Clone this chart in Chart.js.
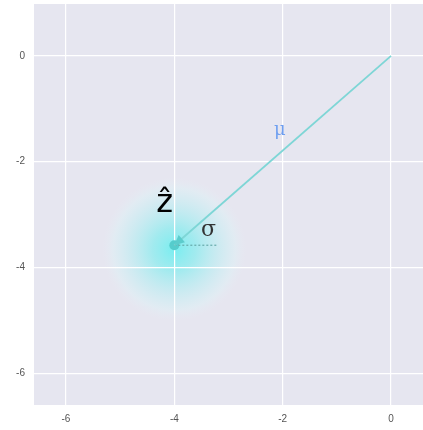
<!DOCTYPE html>
<html>
<head>
<meta charset="utf-8">
<script src="https://cdn.jsdelivr.net/npm/chart.js@4"></script>
<style>
  body { margin: 0; background: #fff; }
  #wrap { width: 423px; height: 430px; }
</style>
</head>
<body>
<div id="wrap"><canvas id="vecChart"></canvas></div>
<script>
// dados
const origin = { x: 0, y: 0 };
const mu = { x: -4, y: -3.58 };
const sigmaEnd = { x: -3.2, y: -3.58 };
const xTicks = [-6, -4, -2, 0];
const yTicks = [0, -2, -4, -6];
const labels = [
  { text: 'μ', x: -2.05, y: -1.4, color: '#6f9ff0', font: '18px "DejaVu Serif"' },
  { text: 'σ', x: -3.37, y: -3.3, color: '#333', font: '22px "DejaVu Serif"' },
  { text: 'ẑ', x: -4.18, y: -2.8, color: '#000', font: '32px "DejaVu Sans"' }
];

// fundo estilo seaborn + brilho em volta do ponto
const bgPlugin = {
  id: 'bg',
  beforeDraw(chart) {
    const { ctx, chartArea: a, scales } = chart;
    ctx.save();
    ctx.fillStyle = '#e6e6f0';
    ctx.fillRect(a.left, a.top, a.right - a.left, a.bottom - a.top);
    const px = scales.x.getPixelForValue(mu.x);
    const py = scales.y.getPixelForValue(mu.y) + 4;
    const g = ctx.createRadialGradient(px, py, 0, px, py, 72);
    g.addColorStop(0, 'rgba(115,238,240,0.95)');
    g.addColorStop(0.3, 'rgba(135,236,238,0.72)');
    g.addColorStop(0.6, 'rgba(180,238,242,0.55)');
    g.addColorStop(0.85, 'rgba(220,242,246,0.45)');
    g.addColorStop(1, 'rgba(230,238,245,0)');
    ctx.fillStyle = g;
    ctx.beginPath();
    ctx.arc(px, py, 72, 0, Math.PI * 2);
    ctx.fill();
    ctx.restore();
  },
  afterDatasetsDraw(chart) {
    const { ctx, scales } = chart;
    // ponta da seta
    const x0 = scales.x.getPixelForValue(origin.x), y0 = scales.y.getPixelForValue(origin.y);
    const x1 = scales.x.getPixelForValue(mu.x), y1 = scales.y.getPixelForValue(mu.y);
    const ang = Math.atan2(y1 - y0, x1 - x0);
    ctx.save();
    ctx.fillStyle = '#5ccccc';
    ctx.beginPath();
    ctx.moveTo(x1, y1);
    ctx.lineTo(x1 - 11 * Math.cos(ang - 0.45), y1 - 11 * Math.sin(ang - 0.45));
    ctx.lineTo(x1 - 11 * Math.cos(ang + 0.45), y1 - 11 * Math.sin(ang + 0.45));
    ctx.closePath();
    ctx.fill();
    // textos
    labels.forEach(l => {
      ctx.font = l.font;
      ctx.fillStyle = l.color;
      ctx.textAlign = 'center';
      ctx.textBaseline = 'middle';
      ctx.fillText(l.text, scales.x.getPixelForValue(l.x), scales.y.getPixelForValue(l.y));
    });
    ctx.restore();
  }
};

const ctx = document.getElementById('vecChart').getContext('2d');
const vecChart = new Chart(ctx, {
  type: 'scatter',
  data: {
    datasets: [
      {
        data: [origin, mu],
        showLine: true,
        borderColor: '#7ed6d6',
        borderWidth: 1.8,
        pointRadius: 0
      },
      {
        data: [mu, sigmaEnd],
        showLine: true,
        borderColor: '#66aaaa',
        borderWidth: 1.2,
        borderDash: [2, 2],
        pointRadius: 0
      },
      {
        data: [mu],
        backgroundColor: '#55cccc',
        borderWidth: 0,
        pointRadius: 5
      }
    ]
  },
  options: {
    responsive: true,
    maintainAspectRatio: false,
    animation: false,
    layout: { autoPadding: false, padding: { top: 4, right: 0, left: 0, bottom: 0 } },
    plugins: { legend: { display: false }, tooltip: { enabled: false } },
    scales: {
      x: {
        min: -6.59, max: 0.59,
        afterFit(s) { s.height = 25; s.paddingLeft = 0; s.paddingRight = 0; },
        afterBuildTicks(s) { s.ticks = xTicks.map(v => ({ value: v })); },
        grid: { color: '#ffffff', lineWidth: 1.2, drawTicks: false },
        border: { display: false },
        ticks: { color: '#555', font: { size: 10, family: 'Liberation Sans' }, padding: 8 }
      },
      y: {
        min: -6.6, max: 0.98,
        afterFit(s) { s.width = 34; s.paddingTop = 0; s.paddingBottom = 0; },
        afterBuildTicks(s) { s.ticks = yTicks.map(v => ({ value: v })); },
        grid: { color: '#ffffff', lineWidth: 1.2, drawTicks: false },
        border: { display: false },
        ticks: { color: '#555', font: { size: 10, family: 'Liberation Sans' }, padding: 9 }
      }
    }
  },
  plugins: [bgPlugin]
});
</script>
</body>
</html>
